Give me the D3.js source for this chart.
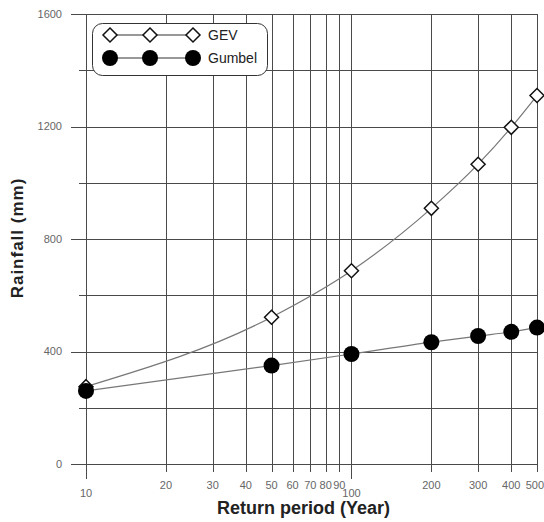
<!DOCTYPE html>
<html>
<head>
<meta charset="utf-8">
<script src="https://cdn.jsdelivr.net/npm/d3@7"></script>
<style>
  html, body { margin: 0; padding: 0; background: #fff; }
  svg { display: block; font-family: "Liberation Sans", Arial, sans-serif; }
</style>
</head>
<body>
<svg id="chart" width="544" height="522"></svg>
<script>
// Return periods (years) and rainfall estimates (mm)
const returnPeriods = [10, 50, 100, 200, 300, 400, 500];
const gevValues     = [275, 522, 687, 909, 1066, 1197, 1310];
const gumbelValues  = [260, 350, 391, 433, 455, 470, 485];

const xTickValues = [10, 20, 30, 40, 50, 60, 70, 80, 90, 100, 200, 300, 400, 500];
const xMajorTicks = [10, 100];
const yMajorTicks = [0, 400, 800, 1200, 1600];
const yMinorTicks = [200, 600, 1000, 1400];

const svg = d3.select("#chart");
const plotLeft = 86, plotRight = 537, plotTop = 14, plotBottom = 464;

const x = d3.scaleLog().domain([10, 500]).range([plotLeft, plotRight]);
const y = d3.scaleLinear().domain([0, 1600]).range([plotBottom, plotTop]);

const gridColor = "#4a4a4a";
const grid = svg.append("g").attr("stroke", gridColor).attr("stroke-width", 1).attr("fill", "none");

// horizontal grid lines (major ones reach out as ticks)
yMajorTicks.forEach(v => {
  grid.append("line").attr("x1", 71).attr("x2", plotRight)
    .attr("y1", Math.round(y(v)) + 0.5).attr("y2", Math.round(y(v)) + 0.5);
});
yMinorTicks.forEach(v => {
  grid.append("line").attr("x1", 79).attr("x2", plotRight)
    .attr("y1", Math.round(y(v)) + 0.5).attr("y2", Math.round(y(v)) + 0.5);
});

// vertical grid lines (decades reach further below the axis)
xTickValues.forEach(v => {
  const px = Math.round(x(v)) + 0.5;
  const major = xMajorTicks.includes(v);
  grid.append("line").attr("x1", px).attr("x2", px)
    .attr("y1", plotTop).attr("y2", major ? 479 : 472);
});

// y tick labels
svg.append("g").selectAll("text").data(yMajorTicks).join("text")
  .attr("x", 62).attr("y", d => y(d)).attr("dy", "0.35em")
  .attr("text-anchor", "end").attr("font-size", 11).attr("fill", "#666")
  .text(d => d);

// x tick labels (the last one is pulled in so it stays inside the frame)
const lastTick = xTickValues[xTickValues.length - 1];
svg.append("g").selectAll("text").data(xTickValues).join("text")
  .attr("x", d => d === lastTick ? 544 : x(d))
  .attr("y", d => xMajorTicks.includes(d) ? 497 : 489)
  .attr("text-anchor", d => d === lastTick ? "end" : "middle")
  .attr("font-size", 11).attr("fill", "#666")
  .text(d => d);

// axis titles
svg.append("text").attr("x", 303.5).attr("y", 514)
  .attr("text-anchor", "middle").attr("font-size", 18).attr("font-weight", "bold")
  .attr("fill", "#222").text("Return period (Year)");
svg.append("text").attr("transform", "translate(23,238) rotate(-90)")
  .attr("text-anchor", "middle").attr("font-size", 17).attr("font-weight", "bold")
  .attr("fill", "#222").attr("letter-spacing", 1).text("Rainfall (mm)");

// series lines
const line = d3.line().x(d => x(d[0])).y(d => y(d[1])).curve(d3.curveMonotoneX);
const gev = returnPeriods.map((p, i) => [p, gevValues[i]]);
const gumbel = returnPeriods.map((p, i) => [p, gumbelValues[i]]);

svg.append("path").datum(gev).attr("d", line)
  .attr("fill", "none").attr("stroke", "#777").attr("stroke-width", 1.2);
svg.append("path").datum(gumbel).attr("d", line)
  .attr("fill", "none").attr("stroke", "#777").attr("stroke-width", 1.2);

function drawDiamond(g, cx, cy) {
  const s = 7;
  g.append("path")
    .attr("d", `M${cx},${cy - s}L${cx + s},${cy}L${cx},${cy + s}L${cx - s},${cy}Z`)
    .attr("fill", "#fff").attr("stroke", "#111").attr("stroke-width", 1.5);
}

// GEV markers
const gevG = svg.append("g");
gev.forEach(d => drawDiamond(gevG, x(d[0]), y(d[1])));

// Gumbel markers
svg.append("g").selectAll("circle").data(gumbel).join("circle")
  .attr("cx", d => x(d[0])).attr("cy", d => y(d[1])).attr("r", 8)
  .attr("fill", "#000");

// legend
const lg = svg.append("g");
lg.append("rect").attr("x", 92.5).attr("y", 23.5).attr("width", 175).attr("height", 52)
  .attr("rx", 10).attr("fill", "#fff").attr("stroke", "#333").attr("stroke-width", 1);
const legendXs = [110, 150, 193];
lg.append("line").attr("x1", 110).attr("x2", 193).attr("y1", 35).attr("y2", 35)
  .attr("stroke", "#333").attr("stroke-width", 1.2);
legendXs.forEach(px => drawDiamond(lg, px, 35));
lg.append("line").attr("x1", 110).attr("x2", 193).attr("y1", 58).attr("y2", 58)
  .attr("stroke", "#333").attr("stroke-width", 1.2);
legendXs.forEach(px => lg.append("circle").attr("cx", px).attr("cy", 58).attr("r", 8).attr("fill", "#000"));
lg.append("text").attr("x", 208).attr("y", 35).attr("dy", "0.35em")
  .attr("font-size", 14).attr("fill", "#222").text("GEV");
lg.append("text").attr("x", 208).attr("y", 58).attr("dy", "0.35em")
  .attr("font-size", 14).attr("fill", "#222").text("Gumbel");
</script>
</body>
</html>
